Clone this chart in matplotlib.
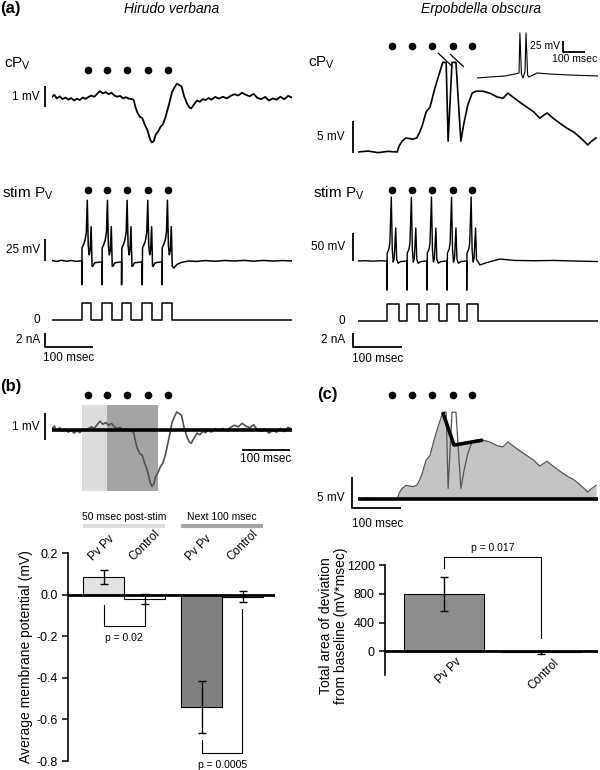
import numpy as np
import matplotlib
matplotlib.use("Agg")
import matplotlib.pyplot as plt

plt.rcParams["font.family"] = "Liberation Sans"
plt.rcParams["mathtext.fontset"] = "custom"
plt.rcParams["mathtext.rm"] = "Liberation Sans"
plt.rcParams["axes.unicode_minus"] = False

# ---------------- data ----------------
# stimulus timing (msec)
hv_spike_t = [74, 115, 156, 200, 242]
hv_pulse_on = [62, 104, 145, 188, 229]
hv_pulse_off = [82, 124, 165, 208, 249]
eo_spike_t = [69, 111, 152, 193, 233]
eo_pulse_on = [59, 100, 141, 182, 222]
eo_pulse_off = [84, 125, 166, 207, 246]
pulse_amp = 2.4  # nA

# Hirudo cPV (mV)
hv_cpv_t = [0, 5, 10, 16, 22, 28, 34, 40, 46, 52, 58, 64, 70, 76, 82, 88, 94, 100,
            106, 112, 118, 124, 130, 136, 142, 148, 154, 160, 166, 170, 174, 178,
            183, 188, 194, 199, 204, 208, 212, 216, 221, 226, 231, 236, 242, 246,
            250, 255, 260, 265, 270, 275, 281, 286, 290, 296, 302, 308, 314, 320,
            326, 332, 340, 348, 356, 364, 372, 380, 388, 396, 404, 412, 420, 428,
            436, 444, 452, 460, 468, 476, 484, 492, 500]
hv_cpv_v = [0.05, 0.15, -0.02, 0.08, -0.05, 0.02, -0.08, 0.0, -0.12, -0.03, -0.1,
            0.02, -0.04, 0.05, 0.12, 0.06, 0.2, 0.33, 0.22, 0.28, 0.18, 0.25, 0.12,
            0.06, 0.1, -0.02, 0.04, -0.03, -0.05, -0.08, -0.45, -0.7, -0.9, -0.95,
            -1.3, -1.55, -1.95, -2.12, -2.05, -1.75, -1.6, -1.38, -1.25, -0.95,
            -0.45, -0.1, 0.28, 0.5, 0.68, 0.62, 0.55, 0.1, -0.25, -0.45, -0.5, -0.3,
            -0.12, -0.18, -0.05, -0.1, 0.0, -0.08, 0.05, -0.03, 0.06, -0.02, 0.1,
            0.18, 0.12, 0.25, 0.15, 0.08, 0.2, 0.0, -0.05, 0.05, -0.12, -0.02, -0.08,
            0.06, -0.06, 0.1, 0.02]

# Hirudo stimulated PV (mV)
hv_stim_t = [0, 10, 20, 30, 40, 50, 61.9,
             62, 62.6, 66, 69, 71.5, 73.5, 75.5, 77.5, 79.5, 81.5, 83, 83.5, 85, 89, 96, 103.9,
             104, 104.6, 108, 111, 113.5, 115.5, 117.5, 119.5, 121.5, 123.5, 125, 125.5, 127, 131, 138, 144.9,
             145, 145.6, 149, 152, 154.5, 156.5, 158.5, 160.5, 162.5, 164.5, 166, 166.5, 168, 172, 180, 187.9,
             188, 188.6, 192, 195, 197.5, 199.5, 201.5, 203.5, 205.5, 207.5, 209, 209.5, 211, 215, 222, 228.9,
             229, 229.6, 233, 236, 238.5, 240.5, 242.5, 244.5, 246.5, 248.5, 250, 250.5, 254, 260, 270,
             285, 300, 320, 340, 360, 380, 400, 420, 440, 460, 480, 500]
hv_stim_v = [0.5, -0.5, 0.8, -0.3, 0.6, -0.4, 0.3,
             -27, 15, 19, 24, 33, 69, 18, 7, 12.5, 39, 6, -6, -6, -2, -1.5, -1,
             -27, 15, 19, 24, 33, 69, 18, 7, 12.5, 39, 6, -6, -6, -2, -1.5, -1,
             -27, 15, 19, 24, 33, 69, 18, 7, 12.5, 39, 6, -6, -6, -2, -1.5, -1,
             -27, 15, 19, 24, 33, 69, 18, 7, 12.5, 39, 6, -6, -6, -2, -1.5, -1,
             -27, 15, 19, 24, 33, 69, 18, 7, 12.5, 39, 6, -6, -8, -4, -1.5,
             0, -0.5, 0.5, -0.3, 0.6, 0, 0.7, -0.2, 0.6, 0, 0.5, 0]

# Erpobdella cPV (mV)
eo_cpv_t = [0, 20, 41, 61, 80, 84, 90, 98, 112, 120, 126, 131, 139, 147, 157, 167,
            173, 180, 184, 192, 200, 210, 216, 224, 233, 241, 255, 269, 284, 296,
            306, 316, 330, 345, 359, 371, 386, 398, 412, 426, 441, 453, 463, 469,
            477, 486]
eo_cpv_v = [0, 0.15, -0.1, 0.1, 0, 0.95, 1.7, 2.2, 2.0, 2.2, 3.1, 4.1, 6.25, 7.0,
            10.0, 12.5, 14.0, 14.0, 1.7, 14.0, 14.0, 1.7, 4.4, 7.3, 9.2, 9.5, 9.5,
            9.2, 8.6, 8.4, 9.2, 8.6, 7.8, 7.0, 6.25, 5.3, 6.1, 5.3, 4.5, 3.75, 3.1,
            2.3, 1.6, 1.1, 1.7, 2.2]
# straight line drawn over the spikes in (c)
eo_fit_t = [173, 196, 255]
eo_fit_v = [14.0, 8.7, 9.5]

# inset: Erpobdella cPV spikes (mV)
eo_inset_t = [0, 59, 127, 173, 191, 195, 202, 209, 218, 223, 230, 236, 273, 332, 423, 550]
eo_inset_v = [-2.3, 0, 2.3, 6.8, 9.1, 100, 6.8, -2.3, 11.4, 100, 4.5, 0, 9.1, 6.8, 4.5, 2.3]

# Erpobdella stimulated PV (mV)
eo_stim_t = [0, 15, 30, 45, 58.9,
             59, 59.5, 63, 65, 68, 70, 72, 74, 77, 79, 82, 87, 99.9,
             100, 100.5, 104, 106, 109, 111, 113, 115, 118, 120, 123, 128, 140.9,
             141, 141.5, 145, 147, 150, 152, 154, 156, 159, 161, 164, 169, 181.9,
             182, 182.5, 186, 188, 191, 193, 195, 197, 200, 202, 205, 210, 221.9,
             222, 222.5, 226, 228, 231, 233, 235, 237, 240, 242, 249, 262, 290,
             320, 360, 400, 440, 490]
eo_stim_v = [0, 0.5, -0.3, 0.4, 0,
             -52, 14, 21, 32, 114, 20, -2, 5, 59, 3, -4, -1, 0,
             -52, 14, 21, 32, 114, 20, -2, 5, 59, 3, -4, -1, 0,
             -52, 14, 21, 32, 114, 20, -2, 5, 59, 3, -4, -1, 0,
             -52, 14, 21, 32, 114, 20, -2, 5, 59, 3, -4, -1, 0,
             -52, 14, 21, 32, 114, 20, -2, 5, 59, 3, -7, -3, 3.5,
             1, 0.5, 1, 0, -1]

# analysis windows in (b) (msec)
win_t = [62, 114, 221]
win_names = ["50 msec post-stim", "Next 100 msec"]
win_colors = ["#dcdcdc", "#a4a4a4"]

# bar chart (b)
b_labels = ["Pv Pv", "Control", "Pv Pv", "Control"]
b_means = [0.085, -0.02, -0.54, -0.01]
b_errs = [0.035, 0.025, 0.125, 0.025]
b_colors = ["#e2e2e2", "white", "#808080", "white"]
b_pvals = ["p = 0.02", "p = 0.0005"]

# bar chart (c)
c_labels = ["Pv Pv", "Control"]
c_means = [800, -15]
c_errs = [240, 20]
c_pval = "p = 0.017"

# ---------------- figure ----------------
W, H = 600, 770
fig = plt.figure(figsize=(W / 100, H / 100), dpi=100)


def px_axes(x0, y0, x1, y1):
    return fig.add_axes([x0 / W, 1 - y1 / H, (x1 - x0) / W, (y1 - y0) / H])


def trace_axes(x0, x1, y0, y1, t_end, y_zero, px_per_unit):
    ax = px_axes(x0, y0, x1, y1)
    ax.set_xlim(0, t_end)
    ax.set_ylim((y_zero - y1) / px_per_unit, (y_zero - y0) / px_per_unit)
    ax.axis("off")
    return ax


def sbar(ax, ts, vs, lw=1.3):
    ax.plot(ts, vs, color="black", lw=lw, clip_on=False, solid_capstyle="butt")


def dots(ax, ts, v):
    ax.plot(ts, [v] * len(ts), "o", color="black", ms=4.5, clip_on=False)


def ftext(x, y, s, **kw):
    fig.text(x / W, 1 - y / H, s, **kw)


def current(on, off, t_end):
    t = [0]
    v = [0]
    for a, b in zip(on, off):
        t += [a, b]
        v += [pulse_amp, 0]
    t.append(t_end)
    v.append(0)
    return t, v


lab = dict(fontsize=8.5, va="center")

# titles / panel labels
ftext(0, 9, "(a)", fontsize=12, fontweight="bold", va="center")
ftext(0, 387, "(b)", fontsize=12, fontweight="bold", va="center")
ftext(317, 395, "(c)", fontsize=12, fontweight="bold", va="center")
ftext(172, 9, "Hirudo verbana", fontsize=10, style="italic", ha="center", va="center")
ftext(481, 9, "Erpobdella obscura", fontsize=10, style="italic", ha="center", va="center")
ftext(4, 64, r"cP$_\mathrm{V}$", fontsize=11, va="center")
ftext(308, 63, r"cP$_\mathrm{V}$", fontsize=11, va="center")
ftext(2, 193, r"stim P$_\mathrm{V}$", fontsize=11, va="center")
ftext(313, 193, r"stim P$_\mathrm{V}$", fontsize=11, va="center")

# --- Hirudo cPV
ax = trace_axes(52, 292, 55, 150, 500, 98, 21)
ax.plot(hv_cpv_t, hv_cpv_v, color="black", lw=1.3)
dots(ax, hv_spike_t, 1.33)
sbar(ax, [-14.6, -14.6], [-0.43, 0.57])
ax.text(-25, 0.07, "1 mV", ha="right", **lab)

# --- Hirudo stim
ax = trace_axes(52, 292, 180, 292, 500, 261, 0.88)
ax.plot(hv_stim_t, hv_stim_v, color="black", lw=1.1)
dots(ax, hv_spike_t, 80.7)
sbar(ax, [-14.6, -14.6], [0, 25])
ax.text(-25, 12.5, "25 mV", ha="right", **lab)

# --- Hirudo current
ax = trace_axes(52, 292, 295, 350, 500, 320, 7.08)
ct, cv = current(hv_pulse_on, hv_pulse_off, 500)
ax.plot(ct, cv, color="black", lw=1.1, drawstyle="steps-post")
sbar(ax, [-14.6, -14.6, 85.4], [-1.84, -3.84, -3.84])
ax.text(-25, 0, "0", ha="right", **lab)
ax.text(-25, -2.84, "2 nA", ha="right", **lab)
ax.text(-18.75, -5.3, "100 msec", ha="left", **lab)

# --- Erpobdella cPV
ax = trace_axes(358, 598, 55, 160, 490, 152, 6.4)
ax.plot(eo_cpv_t, eo_cpv_v, color="black", lw=1.2)
dots(ax, eo_spike_t, 16.6)
sbar(ax, [163, 192], [15.5, 13.4], lw=0.9)
sbar(ax, [188, 216], [15.3, 13.3], lw=0.9)
sbar(ax, [-10.2, -10.2], [-0.15, 4.85])
ax.text(-26.5, 2.3, "5 mV", ha="right", **lab)

# --- inset
ax = trace_axes(477, 598, 28, 82, 550, 77, 0.44)
ax.plot(eo_inset_t, eo_inset_v, color="black", lw=0.8)
sbar(ax, [391, 391, 491], [82, 57, 57])
ax.text(377, 70, "25 mV", ha="right", fontsize=7.5, va="center")
ax.text(443, 40, "100 msec", ha="center", fontsize=7.5, va="center")

# --- Erpobdella stim
ax = trace_axes(358, 598, 180, 295, 490, 261, 0.56)
ax.plot(eo_stim_t, eo_stim_v, color="black", lw=1.0)
dots(ax, eo_spike_t, 126.8)
sbar(ax, [-10.2, -10.2], [0, 50])
ax.text(-26.5, 25, "50 mV", ha="right", **lab)

# --- Erpobdella current
ax = trace_axes(358, 598, 296, 350, 490, 321, 7.08)
ct, cv = current(eo_pulse_on, eo_pulse_off, 490)
ax.plot(ct, cv, color="black", lw=1.1, drawstyle="steps-post")
sbar(ax, [-10.2, -10.2, 89.8], [-1.67, -3.67, -3.67])
ax.text(-26.5, 0, "0", ha="right", **lab)
ax.text(-26.5, -2.67, "2 nA", ha="right", **lab)
ax.text(-12.2, -5.3, "100 msec", ha="left", **lab)

# --- (b) trace
ax = trace_axes(52, 292, 400, 495, 500, 430, 26.5)
ax.axvspan(win_t[0], win_t[1], ymin=(2.45 - 2.3) / 3.39, ymax=(2.45 + 0.75) / 3.39,
           color=win_colors[0], lw=0)
ax.axvspan(win_t[1], win_t[2], ymin=(2.45 - 2.3) / 3.39, ymax=(2.45 + 0.75) / 3.39,
           color=win_colors[1], lw=0)
ax.plot(hv_cpv_t, hv_cpv_v, color="#505050", lw=1.2)
ax.plot([0, 500], [0, 0], color="black", lw=2.6)
dots(ax, hv_spike_t, 1.32)
sbar(ax, [-14.6, -14.6], [-0.38, 0.64])
ax.text(-25, 0.13, "1 mV", ha="right", **lab)
sbar(ax, [396, 496], [-0.75, -0.75])
ax.text(446, -1.09, "100 msec", ha="center", **lab)

# --- (c) trace
ax = trace_axes(358, 598, 400, 505, 490, 499, 6.2)
t = np.array(eo_cpv_t, dtype=float)
v = np.array(eo_cpv_v, dtype=float)
pre = t < eo_fit_t[0]
post = t > eo_fit_t[-1]
fill_t = np.concatenate([t[pre], eo_fit_t, t[post]])
fill_v = np.concatenate([v[pre], eo_fit_v, v[post]])
ax.fill_between(fill_t, 0, fill_v, color="#c4c4c4", lw=0)
ax.plot(t, v, color="#555555", lw=0.9)
ax.plot(eo_fit_t, eo_fit_v, color="black", lw=2.6, solid_capstyle="butt")
ax.plot([0, 490], [0, 0], color="black", lw=2.6)
dots(ax, eo_spike_t, 16.8)
sbar(ax, [-12.2, -12.2, 87.8], [3.55, -1.45, -1.45])
ax.text(-26.5, 0.16, "5 mV", ha="right", **lab)
ax.text(-12.2, -4.0, "100 msec", ha="left", **lab)

# --- (b) bar chart
ax = px_axes(68, 553, 275, 761)
pos = [0.87, 1.87, 3.26, 4.26]
ax.bar(pos, b_means, width=1.0, color=b_colors, edgecolor="black", lw=0.8,
       yerr=b_errs, capsize=3, error_kw=dict(lw=1.0, capthick=1.0, ecolor="black"))
ax.axhline(0, color="black", lw=2)
ax.set_xlim(0, 5.05)
ax.set_ylim(-0.8, 0.2)
ax.set_xticks([])
ax.set_yticks([0.2, 0.0, -0.2, -0.4, -0.6, -0.8])
ax.set_yticklabels(["%.1f" % y for y in [0.2, 0.0, -0.2, -0.4, -0.6, -0.8]])
for s in ["top", "right", "bottom"]:
    ax.spines[s].set_visible(False)
ax.spines["left"].set_linewidth(1.2)
ax.tick_params(axis="y", direction="out", length=4, width=1.1, labelsize=9)
ax.set_ylabel("Average membrane potential (mV)", fontsize=10)
ax.yaxis.set_label_coords(-0.17, 0.5)
for p, l in zip(pos, b_labels):
    ax.text(p - 0.22, 0.15, l, rotation=45, ha="left", va="bottom",
            rotation_mode="anchor", fontsize=8.5)
for g in range(2):
    x0 = pos[2 * g] - 0.5
    x1 = pos[2 * g + 1] + 0.5
    ax.plot([x0, x1], [0.329, 0.329], color=win_colors[g], lw=3, clip_on=False,
            solid_capstyle="butt")
    ax.text((x0 + x1) / 2, 0.371, win_names[g], ha="center", va="center", fontsize=7.5)
ax.plot([pos[0], pos[0], pos[1], pos[1]], [-0.05, -0.152, -0.152, -0.05],
        color="black", lw=0.8)
ax.text((pos[0] + pos[1]) / 2, -0.21, b_pvals[0], ha="center", va="center", fontsize=7.5)
ax.plot([pos[2], pos[2], pos[3] - 0.02, pos[3] - 0.02], [-0.70, -0.762, -0.762, -0.07],
        color="black", lw=0.8, clip_on=False)
ax.text((pos[2] + pos[3]) / 2, -0.82, b_pvals[1], ha="center", va="center", fontsize=7.5)

# --- (c) bar chart
ax = px_axes(385, 565, 598, 675)
cpos = [0.608, 1.608]
ax.bar(cpos, c_means, width=0.82, color="#8c8c8c", edgecolor="black", lw=0.8,
       yerr=c_errs, capsize=3, error_kw=dict(lw=1.0, capthick=1.0, ecolor="black"))
ax.axhline(0, color="black", lw=2)
ax.set_xlim(0, 2.196)
ax.set_ylim(-330, 1200)
ax.set_xticks([])
ax.set_yticks([0, 400, 800, 1200])
for s in ["top", "right", "bottom"]:
    ax.spines[s].set_visible(False)
ax.spines["left"].set_linewidth(1.2)
ax.tick_params(axis="y", direction="out", length=4, width=1.1, labelsize=9)
ax.set_ylabel("Total area of deviation\nfrom baseline (mV*msec)", fontsize=10,
              linespacing=1.1)
ax.yaxis.set_label_coords(-0.175, 0.45)
for p, l in zip(cpos, c_labels):
    ax.text(p + 0.12, -70, l, rotation=45, ha="right", va="top",
            rotation_mode="anchor", fontsize=8.5)
ax.plot([cpos[0], cpos[0], cpos[1], cpos[1]], [1159, 1310, 1310, 179],
        color="black", lw=0.8, clip_on=False)
ax.text((cpos[0] + cpos[1]) / 2, 1434, c_pval, ha="center", va="center", fontsize=7.5)

fig.savefig("out.png", dpi=100)
